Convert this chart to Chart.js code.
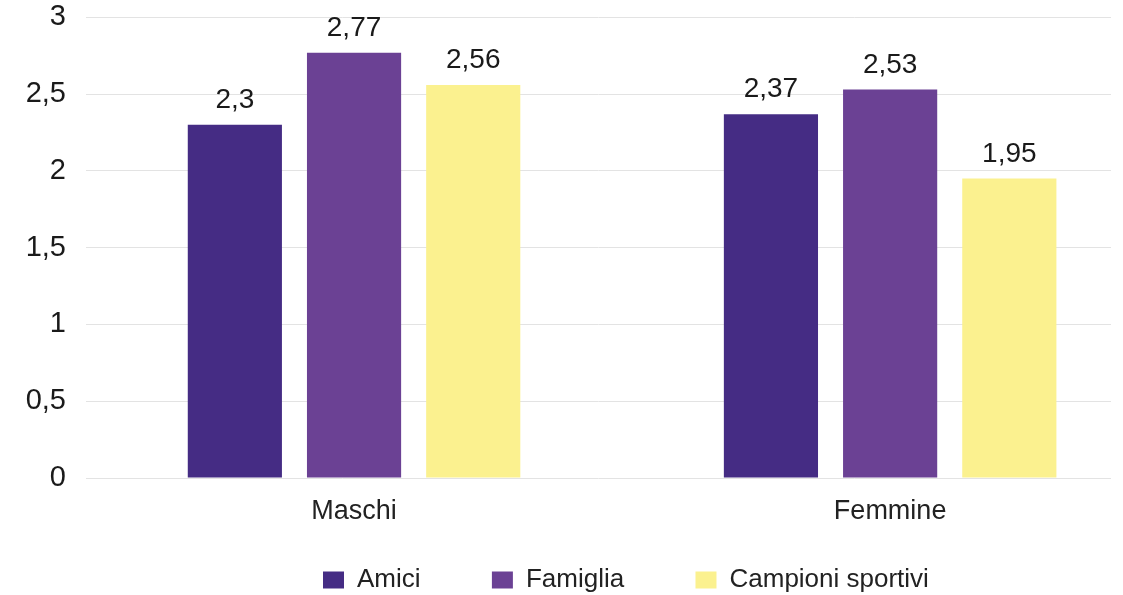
<!DOCTYPE html>
<html>
<head>
<meta charset="utf-8">
<script src="https://cdn.jsdelivr.net/npm/chart.js@4"></script>
<style>
    html, body { margin: 0; padding: 0; background: #ffffff; }
    #wrap { width: 1123px; height: 595px; }
</style>
</head>
<body>
<div id="wrap"><canvas id="chart"></canvas></div>
<script>
var categories = ["Maschi", "Femmine"];
var seriesNames = ["Amici", "Famiglia", "Campioni sportivi"];
var amici = [2.3, 2.37];
var famiglia = [2.77, 2.53];
var campioni = [2.56, 1.95];
var seriesColors = ["#452c84", "#6b4194", "#fbf18f"];

var FONT = "'Liberation Sans', Arial, sans-serif";
var legendPad = 28;

function itNum(v) {
    return String(v).replace(".", ",");
}

function toPoints(values) {
    return values.map(function (v, i) { return { x: i, y: v }; });
}

// etichette dei valori sopra le barre
var valueLabels = {
    id: "valueLabels",
    afterDatasetsDraw: function (chart) {
        var ctx = chart.ctx;
        ctx.save();
        ctx.font = "28px " + FONT;
        ctx.fillStyle = "#1a1a1a";
        ctx.textAlign = "center";
        ctx.textBaseline = "alphabetic";
        chart.data.datasets.forEach(function (ds, di) {
            chart.getDatasetMeta(di).data.forEach(function (bar, i) {
                ctx.fillText(itNum(ds.data[i].y), bar.x, bar.y - 17);
            });
        });
        ctx.restore();
    }
};

// sposta la legenda come nell'originale (non centrata sul canvas)
var legendShift = {
    id: "legendShift",
    afterLayout: function (chart) {
        var lg = chart.legend;
        if (!lg || !lg.lineWidths) return;
        var start = (lg.left + legendPad + lg.right - lg.lineWidths[0]) / 2;
        var d = 323 - start;
        lg.left += d;
        lg.right += d;
        lg.top += 8;
        lg.bottom += 8;
    }
};

var ctx = document.getElementById("chart");
var chart = new Chart(ctx, {
    type: "bar",
    data: {
        datasets: [
            { label: seriesNames[0], data: toPoints(amici), backgroundColor: seriesColors[0] },
            { label: seriesNames[1], data: toPoints(famiglia), backgroundColor: seriesColors[1] },
            { label: seriesNames[2], data: toPoints(campioni), backgroundColor: seriesColors[2] },
        ],
    },
    options: {
        responsive: true,
        maintainAspectRatio: false,
        animation: false,
        categoryPercentage: 0.667,
        barPercentage: 0.79,
        layout: { padding: { top: 0, right: 12, bottom: 0, left: 0 } },
        scales: {
            x: {
                type: "linear",
                min: -0.5,
                max: 1.412,
                bounds: "data",
                offset: false,
                grid: { display: false, drawTicks: false, offset: false },
                border: { display: false },
                afterBuildTicks: function (scale) {
                    scale.ticks = categories.map(function (c, i) { return { value: i }; });
                },
                afterFit: function (scale) { scale.height = 53; },
                ticks: {
                    autoSkip: false,
                    maxRotation: 0,
                    padding: 17,
                    color: "#222222",
                    font: { family: FONT, size: 27 },
                    callback: function (value) { return categories[Math.round(value)]; },
                },
            },
            y: {
                min: 0,
                max: 3,
                grid: { color: "#e3e3e3", lineWidth: 1, drawTicks: true, tickLength: 20, tickColor: "rgba(0,0,0,0)" },
                border: { display: false },
                afterFit: function (scale) { scale.width = 86; },
                ticks: {
                    stepSize: 0.5,
                    padding: 0,
                    color: "#1a1a1a",
                    font: { family: FONT, size: 29 },
                    callback: function (value) { return itNum(value); },
                },
            },
        },
        plugins: {
            tooltip: { enabled: false },
            legend: {
                display: true,
                position: "bottom",
                labels: {
                    boxWidth: 21,
                    boxHeight: 17,
                    padding: legendPad,
                    color: "#222222",
                    font: { family: FONT, size: 26 },
                    generateLabels: function (chart) {
                        var items = Chart.defaults.plugins.legend.labels.generateLabels(chart);
                        items.forEach(function (it) {
                            it.text = it.text + "\u00a0\u00a0\u00a0\u00a0\u00a0\u00a0";
                        });
                        return items;
                    },
                },
            },
        },
    },
    plugins: [valueLabels, legendShift],
});
</script>
</body>
</html>
